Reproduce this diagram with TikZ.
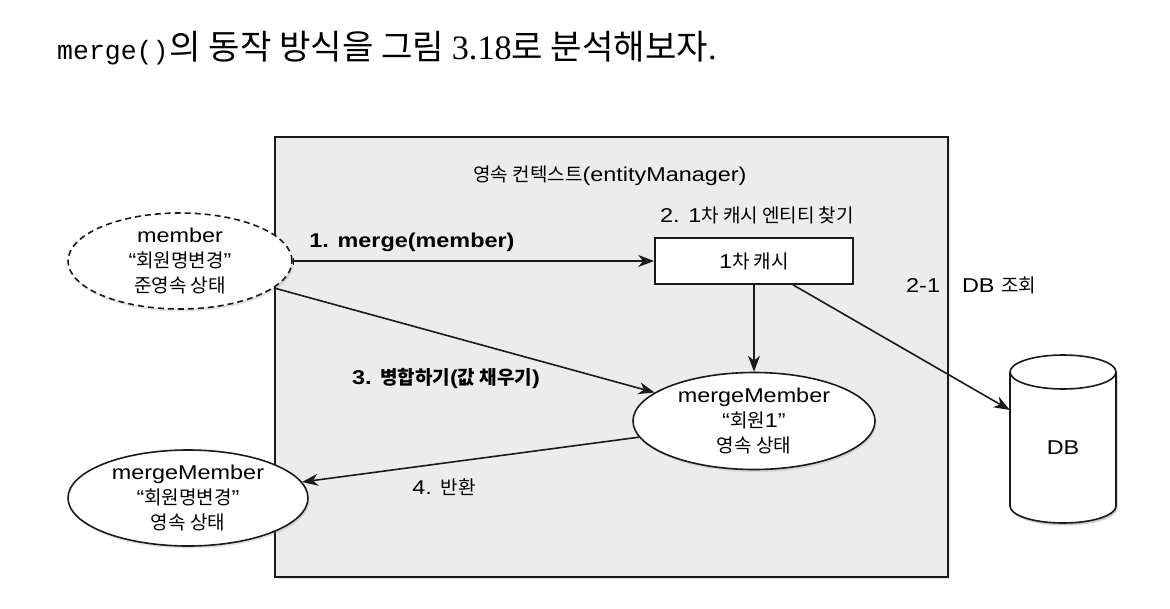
\documentclass[tikz,border=0pt]{standalone}
\usepackage{fontspec}
\setmainfont{Liberation Sans}[FakeStretch=1.17]
\newfontfamily\kr{Noto Sans CJK KR}[Scale=0.95]
\newfontfamily\krt{Noto Sans CJK KR}
\newfontfamily\mono{Liberation Mono}
\newfontfamily\serifl{Liberation Serif}
\newcommand{\K}[1]{{\kr #1}}
\usetikzlibrary{shapes.geometric,arrows.meta,shadows}
\definecolor{boxgray}{HTML}{ECECEC}
\definecolor{edge}{HTML}{1A1A1A}
\tikzset{
  lbl/.style={inner sep=0pt, font=\fontsize{20}{25}\selectfont},
  blbl/.style={inner sep=0pt, font=\fontsize{20}{25}\selectfont\bfseries},
  ellnode/.style={ellipse, draw=edge, fill=white, line width=1.6pt, align=center,
     inner sep=0pt, font=\fontsize{20}{25}\selectfont,
     drop shadow={opacity=0.22, shadow xshift=1.5pt, shadow yshift=-2.5pt}},
  dashell/.style={ellnode, dash pattern=on 6pt off 4pt},
  arr/.style={-{Stealth[length=16pt,width=12pt,inset=5pt]}, line width=1.6pt, draw=edge},
}
\begin{document}
\begin{tikzpicture}[x=1pt,y=-1pt]
\fill[white] (0,0) rectangle (1170,608);
\useasboundingbox (0,0) rectangle (1170,608);

% title
\node[anchor=west, inner sep=0pt] (title) at (57,48)
  {\fontsize{26.5}{30}\mono merge()\fontsize{34.2}{40}\krt\hspace{1pt}의 동작 방식을 그림 \serifl 3.18\krt 로 분석해보자\serifl .};

% persistence context box
\node[draw=edge, fill=boxgray, line width=1.9pt, minimum width=673pt, minimum height=440pt,
      inner sep=0pt, drop shadow={opacity=0.2, shadow xshift=2pt, shadow yshift=-2pt}]
      (pc) at (611.5,357) {};
\node[lbl] (ctx) at (610,176) {\K{영속 컨텍스트}(entityManager)};
\node[lbl] (find) at (757,215) {2. 1\K{차 캐시 엔티티 찾기}};

% cache box
\node[draw=edge, fill=white, line width=1.7pt, minimum width=198pt, minimum height=46pt,
      inner sep=0pt, font=\fontsize{20}{25}\selectfont] (cache) at (754,261) {1\K{차 캐시}};

% ellipses
\node[dashell, minimum width=224pt, minimum height=96pt] (member) at (180,261)
  {member\\“\K{회원명변경}”\\\K{준영속 상태}};
\node[ellnode, minimum width=242pt, minimum height=97pt] (mm) at (754,421)
  {mergeMember\\“\K{회원}1”\\\K{영속 상태}};
\node[ellnode, minimum width=240pt, minimum height=96pt] (res) at (188,498)
  {mergeMember\\“\K{회원명변경}”\\\K{영속 상태}};

% DB cylinder
\node[inner sep=0pt, minimum width=106pt, minimum height=134pt] (db) at (1063,439) {};
\fill[black, opacity=0.2] (1011.5,374.5) -- (1011.5,508.5) arc[start angle=180, end angle=360, x radius=53pt, y radius=17pt] -- (1117.5,374.5) -- cycle;
\filldraw[fill=white, draw=edge, line width=1.6pt]
  (1010,372) -- (1010,506) arc[start angle=180, end angle=360, x radius=53pt, y radius=17pt] -- (1116,372);
\filldraw[fill=white, draw=edge, line width=1.6pt] (1063,372) ellipse[x radius=53pt, y radius=17pt];
\node[lbl] (dblbl) at (1063,448) {DB};

% labels
\node[blbl] (l1) at (412,242) {1. merge(member)};
\node[lbl, anchor=west] (l21) at (906,285) {2-1\hspace{22pt}DB \K{조회}};
\node[blbl] (l3) at (446,378) {3. {\kr\bfseries 병합하기}({\kr\bfseries 값 채우기})};
\node[lbl] (l4) at (444,487) {4. \K{반환}};

% connectors
\draw[arr, {Bar[width=7pt,line width=1.2pt]}-{Stealth[length=16pt,width=12pt,inset=5pt]}] (member.east) -- (cache.west);
\draw[arr] (cache.south) -- (mm.north);
\draw[arr] ([xshift=39pt]cache.south) -- ([yshift=29pt]db.west);
\draw[arr] (member.-16) -- (mm.164);
\draw[arr] (mm.188) -- (res.8);
\end{tikzpicture}
\end{document}
